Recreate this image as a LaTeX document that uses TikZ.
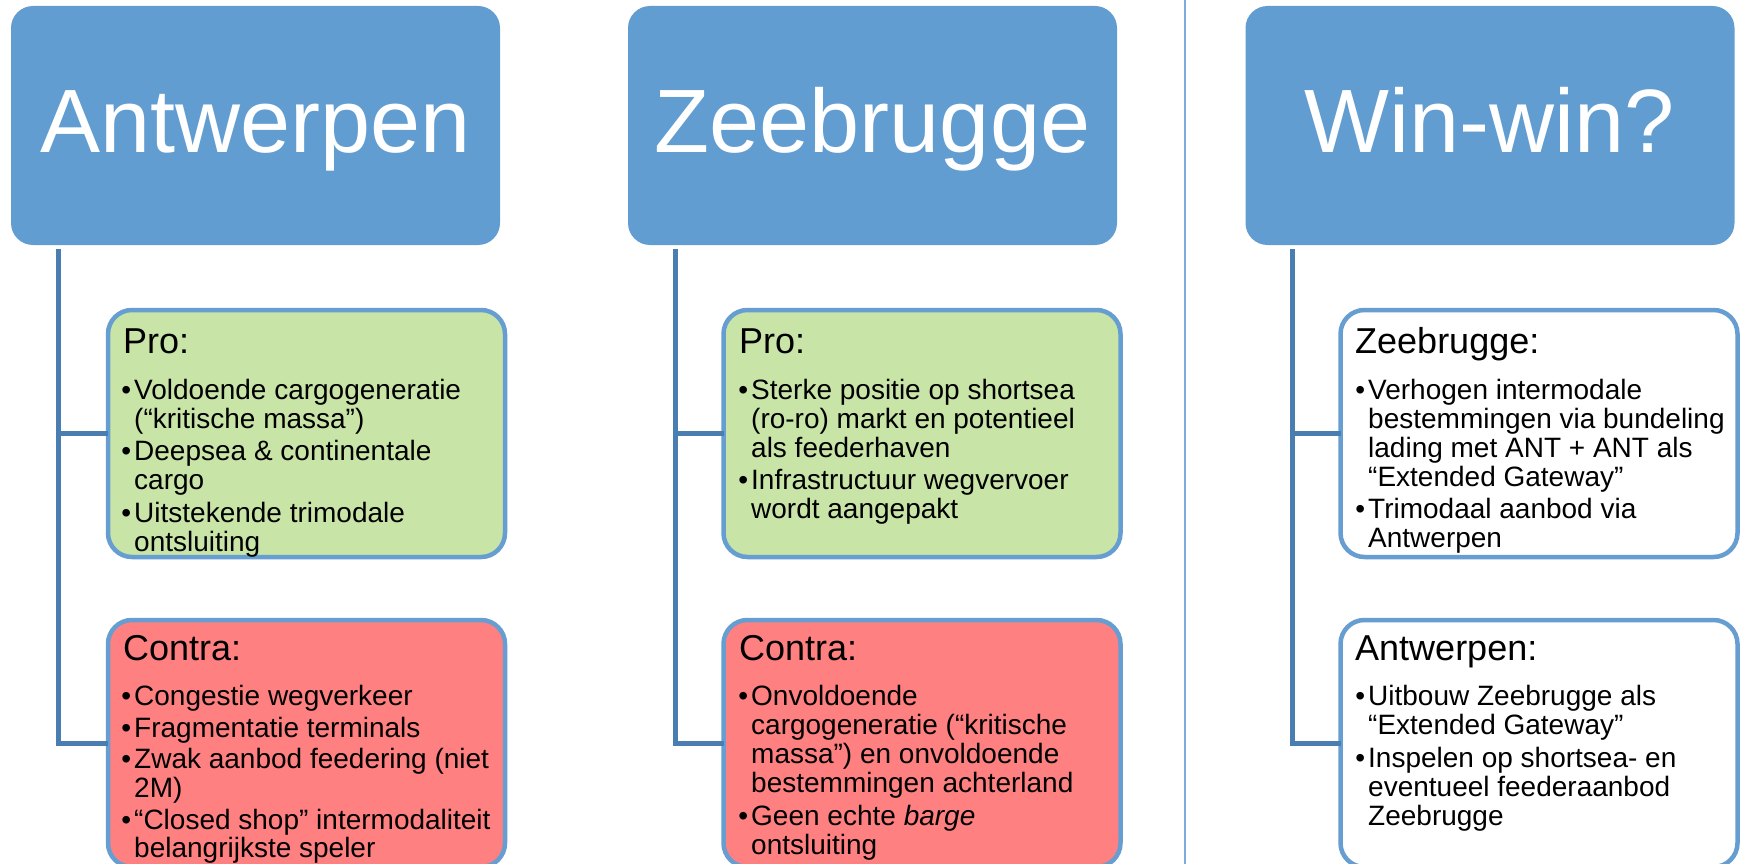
\documentclass[tikz,border=0pt]{standalone}
\usepackage{fontspec}
\setmainfont{Liberation Sans}
\definecolor{hdrblue}{RGB}{98,157,209}
\definecolor{boxblue}{RGB}{102,158,210}
\definecolor{treeblue}{RGB}{74,126,177}
\definecolor{sepblue}{RGB}{125,172,220}
\definecolor{progreen}{RGB}{201,228,167}
\definecolor{conred}{RGB}{255,128,128}
\newcommand\mybul{\llap{•\hspace{3pt}}}
\begin{document}
\begin{tikzpicture}[x=1pt,y=-1pt,
  hdr/.style={rectangle, rounded corners=22pt, fill=hdrblue, minimum width=489pt, minimum height=239pt, inner sep=0pt, outer sep=0pt},
  hdrtext/.style={anchor=base, text=white, font=\fontsize{90}{100}\selectfont, inner sep=0pt},
  probox/.style={rectangle, rounded corners=24pt, draw=boxblue, line width=4.5pt, fill=progreen, minimum width=397pt, minimum height=247pt, inner sep=0pt, outer sep=0pt},
  conbox/.style={probox, fill=conred},
  winbox/.style={probox, fill=white},
  ttl/.style={anchor=base west, inner sep=0pt, font=\fontsize{36}{40}\selectfont},
  ln/.style={anchor=base west, inner sep=0pt, font=\fontsize{28}{30}\selectfont},
  tree/.style={draw=treeblue, line width=5pt},
  sepline/.style={draw=sepblue, line width=2pt}]
\useasboundingbox (0,0) rectangle (1741,864);
\clip (0,0) rectangle (1741,864);
\fill[white] (0,0) rectangle (1741,864);

% separator
\coordinate (st) at (1184.5,0);
\coordinate (sb) at (1184.5,864);
\draw[sepline] (st) -- (sb);

% headers
\node[hdr] (h1) at (255.5,125.5) {};
\node[hdr] (h2) at (872.5,125.5) {};
\node[hdr] (h3) at (1490,125.5) {};
\node[hdrtext] (h1t) at (255.5,153) {Antwerpen};
\node[hdrtext] (h2t) at (872.5,153) {Zeebrugge};
\node[hdrtext] (h3t) at (1490,153) {Win-win?};

% boxes
\node[probox] (p1) at (306.5,433.5) {};
\node[conbox] (c1) at (306.5,743.5) {};
\node[probox] (p2) at (922,433.5) {};
\node[conbox] (c2) at (922,743.5) {};
\node[winbox] (p3) at (1539,433.5) {};
\node[winbox] (c3) at (1539,743.5) {};

% tree connectors
\draw[tree] ([xshift=47pt,yshift=-4pt]h1.south west) |- (c1.west);
\draw[tree] ([xshift=47pt]h1.south west |- p1.west) -- (p1.west);
\draw[tree] ([xshift=47pt,yshift=-4pt]h2.south west) |- (c2.west);
\draw[tree] ([xshift=47pt]h2.south west |- p2.west) -- (p2.west);
\draw[tree] ([xshift=47pt,yshift=-4pt]h3.south west) |- (c3.west);
\draw[tree] ([xshift=47pt]h3.south west |- p3.west) -- (p3.west);

% column 1 pro
\node[ttl] (t1a) at (123,353) {Pro:};
\node[ln] (l1a) at (134,399) {\mybul Voldoende cargogeneratie};
\node[ln] (l1b) at (134,428) {(“kritische massa”)};
\node[ln] (l1c) at (134,460.5) {\mybul Deepsea \& continentale};
\node[ln] (l1d) at (134,489.5) {cargo};
\node[ln] (l1e) at (134,522) {\mybul Uitstekende trimodale};
\node[ln] (l1f) at (134,551) {ontsluiting};

% column 1 contra
\node[ttl] (t1b) at (123,660) {Contra:};
\node[ln] (m1a) at (134,705.5) {\mybul Congestie wegverkeer};
\node[ln] (m1b) at (134,737) {\mybul Fragmentatie terminals};
\node[ln] (m1c) at (134,768.5) {\mybul Zwak aanbod feedering (niet};
\node[ln] (m1d) at (134,797.5) {2M)};
\node[ln] (m1e) at (134,829) {\mybul “Closed shop” intermodaliteit};
\node[ln] (m1f) at (134,857) {belangrijkste speler};

% column 2 pro
\node[ttl] (t2a) at (739,353) {Pro:};
\node[ln] (l2a) at (751,399) {\mybul Sterke positie op shortsea};
\node[ln] (l2b) at (751,428) {(ro-ro) markt en potentieel};
\node[ln] (l2c) at (751,457) {als feederhaven};
\node[ln] (l2d) at (751,489) {\mybul Infrastructuur wegvervoer};
\node[ln] (l2e) at (751,518) {wordt aangepakt};

% column 2 contra
\node[ttl] (t2b) at (739,660) {Contra:};
\node[ln] (m2a) at (751,705.5) {\mybul Onvoldoende};
\node[ln] (m2b) at (751,734.5) {cargogeneratie (“kritische};
\node[ln] (m2c) at (751,763.5) {massa”) en onvoldoende};
\node[ln] (m2d) at (751,792.5) {bestemmingen achterland};
\node[ln] (m2e) at (751,825) {\mybul Geen echte \textit{barge}};
\node[ln] (m2f) at (751,854) {ontsluiting};

% column 3 zeebrugge
\node[ttl] (t3a) at (1355,353) {Zeebrugge:};
\node[ln] (l3a) at (1368,399) {\mybul Verhogen intermodale};
\node[ln] (l3b) at (1368,428) {bestemmingen via bundeling};
\node[ln] (l3c) at (1368,457) {lading met ANT + ANT als};
\node[ln] (l3d) at (1368,486) {“Extended Gateway”};
\node[ln] (l3e) at (1368,518.5) {\mybul Trimodaal aanbod via};
\node[ln] (l3f) at (1368,547.5) {Antwerpen};

% column 3 antwerpen
\node[ttl] (t3b) at (1355,660) {Antwerpen:};
\node[ln] (m3a) at (1368,705.5) {\mybul Uitbouw Zeebrugge als};
\node[ln] (m3b) at (1368,734.5) {“Extended Gateway”};
\node[ln] (m3c) at (1368,767) {\mybul Inspelen op shortsea- en};
\node[ln] (m3d) at (1368,796) {eventueel feederaanbod};
\node[ln] (m3e) at (1368,825) {Zeebrugge};
\end{tikzpicture}
\end{document}
